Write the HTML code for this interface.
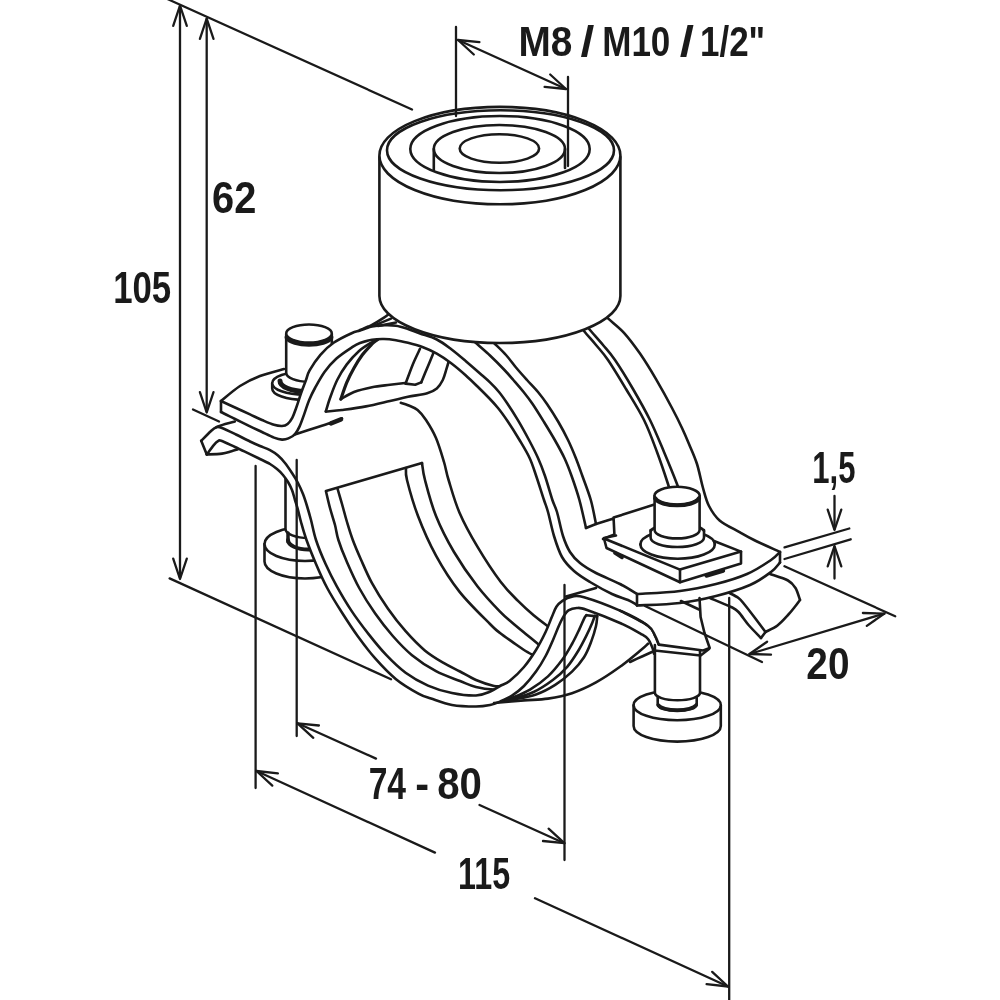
<!DOCTYPE html>
<html><head><meta charset="utf-8"><title>Pipe clamp dimensions</title>
<style>
html,body{margin:0;padding:0;background:#fff;}
svg{display:block}
text{font-family:"Liberation Sans",sans-serif;font-weight:bold;fill:#1a1a1a}
</style></head><body>
<svg width="1000" height="1000" viewBox="0 0 1000 1000">
<defs><filter id="soft" color-interpolation-filters="sRGB" x="0" y="0" width="1000" height="1000" filterUnits="userSpaceOnUse"><feGaussianBlur stdDeviation="0.7"/></filter></defs>
<rect width="1000" height="1000" fill="#ffffff"/>
<g filter="url(#soft)">
<clipPath id="c1"><path d="M260.0,310.0 L400.0,310.0 L372.0,327.2 L351.6,333.2 L333.6,342.8 L320.4,354.8 L309.6,370.4 L306.0,380.0 L301.2,392.8 L296.4,407.2 L292.4,417.6 L287.6,424.0 L260.0,424.0 Z"/></clipPath><g clip-path="url(#c1)">
<path d="M272.2,383.2 L272.2,388.4 A32,11.5 0 0 0 336.2,388.4 L336.2,383.2" fill="#fff" stroke="#1a1a1a" stroke-width="2.6" stroke-linecap="round" stroke-linejoin="round" />
<ellipse cx="304.2" cy="383.2" rx="32.0" ry="11.5" fill="#fff" stroke="#1a1a1a" stroke-width="2.6"/>
<path d="M280,381 A25,10.3 0 0 0 330,381" fill="#fff" stroke="#1a1a1a" stroke-width="5" stroke-linecap="round" stroke-linejoin="round" />
<path d="M286.2,334 L286.2,372.8 A22.8,9 0 0 0 331.8,372.8 L331.8,334" fill="#fff" stroke="#1a1a1a" stroke-width="2.6" stroke-linecap="round" stroke-linejoin="round" />
<ellipse cx="309.0" cy="333.5" rx="22.8" ry="9.0" fill="#fff" stroke="#1a1a1a" stroke-width="2.6"/>
<path d="M286.8,337.5 A22.8,9 0 0 0 331.2,337.5" fill="none" stroke="#1a1a1a" stroke-width="4.5" stroke-linecap="round" stroke-linejoin="round" />
</g>
<path d="M470.0,337.0 C471.0,338.0 472.7,339.9 476.0,343.0 C479.3,346.1 485.3,351.1 490.0,355.5 C494.7,359.9 500.1,365.4 504.0,369.5 C507.9,373.6 510.1,376.2 513.4,380.0 C516.7,383.8 520.4,388.0 523.6,392.0 C526.8,396.0 529.2,399.0 532.6,404.0 C536.0,409.0 540.3,416.0 544.0,422.0 C547.7,428.0 551.4,434.0 554.8,440.0 C558.2,446.0 561.6,452.0 564.4,458.0 C567.2,464.0 569.1,469.0 571.6,476.0 C574.1,483.0 577.0,491.3 579.4,500.0 C581.8,508.7 584.9,523.3 586.0,528.0" fill="none" stroke="#1a1a1a" stroke-width="2.6" stroke-linecap="round" stroke-linejoin="round" />
<path d="M488.0,337.0 C489.0,338.0 491.0,340.0 494.0,343.0 C497.0,346.0 502.3,350.9 506.0,355.0 C509.7,359.1 512.5,363.3 516.0,367.5 C519.5,371.7 523.3,375.9 527.0,380.0 C530.7,384.1 534.7,388.0 538.0,392.0 C541.3,396.0 543.6,399.0 547.0,404.0 C550.4,409.0 554.9,416.0 558.4,422.0 C561.9,428.0 565.1,434.0 568.0,440.0 C570.9,446.0 573.4,452.0 575.8,458.0 C578.2,464.0 579.9,469.0 582.4,476.0 C584.9,483.0 588.5,492.0 590.8,500.0 C593.1,508.0 595.1,520.0 596.0,524.0" fill="none" stroke="#1a1a1a" stroke-width="2.6" stroke-linecap="round" stroke-linejoin="round" />
<path d="M578.0,322.0 C579.0,323.5 581.0,327.2 584.0,331.0 C587.0,334.8 592.0,340.2 596.0,345.0 C600.0,349.8 603.0,352.7 608.0,360.0 C613.0,367.3 620.0,379.0 626.0,389.0 C632.0,399.0 638.8,409.5 644.0,420.0 C649.2,430.5 653.0,441.3 657.0,452.0 C661.0,462.7 665.5,476.3 668.0,484.0 C670.5,491.7 671.3,495.7 672.0,498.0" fill="none" stroke="#1a1a1a" stroke-width="2.6" stroke-linecap="round" stroke-linejoin="round" />
<path d="M584.0,322.0 C585.0,323.3 586.8,326.2 590.0,330.0 C593.2,333.8 598.8,340.0 603.0,345.0 C607.2,350.0 610.0,352.7 615.0,360.0 C620.0,367.3 627.2,379.0 633.0,389.0 C638.8,399.0 644.8,409.5 650.0,420.0 C655.2,430.5 659.5,441.3 664.0,452.0 C668.5,462.7 674.3,477.0 677.0,484.0 C679.7,491.0 679.5,492.3 680.0,494.0" fill="none" stroke="#1a1a1a" stroke-width="2.6" stroke-linecap="round" stroke-linejoin="round" />
<path d="M600.0,310.0 C601.3,311.4 604.0,314.6 608.0,318.4 C612.0,322.2 618.7,326.9 624.0,332.8 C629.3,338.7 634.7,345.9 640.0,353.6 C645.3,361.3 650.7,370.1 656.0,379.2 C661.3,388.3 667.7,399.9 672.0,408.0 C676.3,416.1 679.2,422.0 682.0,428.0 C684.8,434.0 686.5,438.0 689.0,444.0 C691.5,450.0 694.7,456.7 697.0,464.0 C699.3,471.3 701.0,481.0 703.0,488.0 C705.0,495.0 706.2,500.6 709.0,506.0 C711.8,511.4 714.4,516.0 719.6,520.4 C724.8,524.8 734.3,529.1 740.0,532.4 C745.7,535.7 747.3,536.7 754.0,540.0 C760.7,543.3 775.7,550.0 780.0,552.0" fill="none" stroke="#1a1a1a" stroke-width="2.6" stroke-linecap="round" stroke-linejoin="round" />
<path d="M325.8,411.5 C326.5,409.2 328.1,403.2 330.0,398.0 C331.9,392.8 334.4,385.6 337.2,380.0 C340.0,374.4 343.2,369.2 346.8,364.4 C350.4,359.6 354.8,354.8 358.8,351.2 C362.8,347.6 367.6,344.8 370.8,342.8 C374.0,340.9 376.8,340.1 378.0,339.5" fill="none" stroke="#1a1a1a" stroke-width="2.6" stroke-linecap="round" stroke-linejoin="round" />
<path d="M340.8,399.2 C341.8,396.4 344.6,387.6 346.8,382.4 C349.0,377.2 351.4,372.6 354.0,368.0 C356.6,363.4 359.4,358.8 362.4,354.8 C365.4,350.8 369.6,346.5 372.0,344.0 C374.4,341.5 376.2,340.7 377.0,340.0" fill="none" stroke="#1a1a1a" stroke-width="3.2" stroke-linecap="round" stroke-linejoin="round" />
<path d="M340.8,399.2 C343.0,398.0 348.8,394.0 354.0,392.0 C359.2,390.0 366.0,388.4 372.0,387.2 C378.0,386.0 384.5,385.5 390.0,384.8 C395.5,384.1 402.5,383.3 405.0,383.0" fill="none" stroke="#1a1a1a" stroke-width="2.6" stroke-linecap="round" stroke-linejoin="round" />
<path d="M420.0,348.8 C418.8,351.4 415.2,358.6 412.8,364.4 C410.4,370.2 406.8,380.4 405.6,383.6" fill="none" stroke="#1a1a1a" stroke-width="2.6" stroke-linecap="round" stroke-linejoin="round" />
<path d="M405.6,383.6 L415.2,384.8 L421.2,382.4" fill="none" stroke="#1a1a1a" stroke-width="2.6" stroke-linecap="round" stroke-linejoin="round" />
<path d="M421.2,382.4 C422.2,380.0 425.2,372.8 427.2,368.0 C429.2,363.2 432.2,356.0 433.2,353.6" fill="none" stroke="#1a1a1a" stroke-width="2.6" stroke-linecap="round" stroke-linejoin="round" />
<path d="M325.8,411.5 C328.5,411.2 335.3,410.9 342.0,410.0 C348.7,409.1 358.0,407.9 366.0,406.4 C374.0,404.9 383.0,402.6 390.0,401.0 C397.0,399.4 401.8,398.1 408.0,396.8 C414.2,395.5 422.4,394.6 427.2,393.2 C432.0,391.8 434.2,390.6 436.8,388.4 C439.4,386.2 441.2,383.2 442.8,380.0 C444.4,376.8 445.4,372.4 446.4,369.2 C447.4,366.0 448.4,362.4 448.8,361.0" fill="none" stroke="#1a1a1a" stroke-width="2.6" stroke-linecap="round" stroke-linejoin="round" />
<path d="M400.8,402.8 C402.0,403.2 405.2,404.0 408.0,405.2 C410.8,406.4 414.6,407.5 417.6,410.0 C420.6,412.5 422.9,415.3 426.0,420.0 C429.1,424.7 433.0,431.0 436.0,438.0 C439.0,445.0 441.9,455.0 444.0,462.0 C446.1,469.0 446.0,471.6 448.6,480.0 C451.2,488.4 454.6,501.3 459.4,512.4 C464.2,523.5 470.5,535.0 477.4,546.6 C484.3,558.2 494.0,573.0 500.8,582.0 C507.6,591.0 512.5,595.3 518.0,600.8 C523.5,606.3 528.4,610.8 533.6,615.2 C538.8,619.6 546.6,625.2 549.2,627.2" fill="none" stroke="#1a1a1a" stroke-width="2.6" stroke-linecap="round" stroke-linejoin="round" />
<path d="M326.0,491.0 L422.0,463.0" fill="none" stroke="#1a1a1a" stroke-width="2.6" stroke-linecap="round" stroke-linejoin="round" />
<path d="M326.0,491.5 C326.7,494.2 328.5,502.4 330.0,508.0 C331.5,513.6 333.6,519.7 335.0,525.0 C336.4,530.3 336.5,534.0 338.4,540.0 C340.3,546.0 342.9,552.8 346.4,560.8 C349.9,568.8 354.4,579.2 359.2,588.0 C364.0,596.8 369.6,605.6 375.2,613.6 C380.8,621.6 386.7,629.1 392.8,636.0 C398.9,642.9 404.8,649.3 412.0,655.2 C419.2,661.1 428.0,666.9 436.0,671.2 C444.0,675.5 453.3,678.4 460.0,681.0 C466.7,683.6 470.3,685.6 476.0,687.0 C481.7,688.4 489.7,689.3 494.0,689.5 C498.3,689.7 500.7,688.2 502.0,688.0" fill="none" stroke="#1a1a1a" stroke-width="2.6" stroke-linecap="round" stroke-linejoin="round" />
<path d="M337.5,488.5 C338.2,491.1 340.4,498.4 342.0,504.0 C343.6,509.6 345.2,516.0 347.0,522.0 C348.8,528.0 350.5,533.8 352.8,540.0 C355.1,546.2 357.6,552.0 360.8,559.2 C364.0,566.4 367.5,574.9 372.0,583.2 C376.5,591.5 382.4,600.8 388.0,608.8 C393.6,616.8 399.5,624.3 405.6,631.2 C411.7,638.1 418.4,645.1 424.8,650.4 C431.2,655.7 438.1,659.7 444.0,663.2 C449.9,666.7 454.7,668.7 460.0,671.5 C465.3,674.3 470.3,677.6 476.0,680.0 C481.7,682.4 489.5,685.0 494.0,686.0 C498.5,687.0 501.5,686.0 503.0,686.0" fill="none" stroke="#1a1a1a" stroke-width="2.6" stroke-linecap="round" stroke-linejoin="round" />
<path d="M406.0,468.0 C406.2,470.0 405.0,472.0 407.0,480.0 C409.0,488.0 413.2,503.4 418.0,516.0 C422.8,528.6 429.1,543.0 436.0,555.6 C442.9,568.2 450.4,580.2 459.4,591.6 C468.4,603.0 483.2,617.1 490.0,624.0 C496.8,630.9 496.3,630.1 500.0,633.0 C503.7,635.9 508.0,638.8 512.0,641.6 C516.0,644.4 520.2,647.6 524.0,650.0 C527.8,652.4 533.0,655.0 534.8,656.0" fill="none" stroke="#1a1a1a" stroke-width="2.6" stroke-linecap="round" stroke-linejoin="round" />
<path d="M422.0,463.0 C422.5,465.8 422.7,471.2 425.0,480.0 C427.3,488.8 431.2,504.0 436.0,516.0 C440.8,528.0 447.1,540.3 454.0,552.0 C460.9,563.7 469.7,576.3 477.4,586.2 C485.1,596.1 494.2,605.6 500.0,611.6 C505.8,617.6 507.6,618.6 512.0,622.4 C516.4,626.2 521.8,630.6 526.4,634.4 C531.0,638.2 537.4,643.4 539.6,645.2" fill="none" stroke="#1a1a1a" stroke-width="2.6" stroke-linecap="round" stroke-linejoin="round" />
<clipPath id="c2"><path d="M240.0,440.0 L250.0,454.5 L260.0,459.0 L270.0,464.0 L277.0,469.0 L283.0,475.0 L288.0,482.0 L292.0,490.0 L295.0,500.0 L298.0,510.0 L301.0,522.0 L306.5,540.0 L316.0,564.0 L327.2,588.0 L341.6,612.0 L240.0,612.0 Z"/></clipPath><g clip-path="url(#c2)">
<path d="M264.5,544 L264.5,561.5 A40.5,17 0 0 0 345.5,561.5 L345.5,544" fill="#fff" stroke="#1a1a1a" stroke-width="2.6" stroke-linecap="round" stroke-linejoin="round" />
<ellipse cx="305.0" cy="544.0" rx="40.5" ry="17.0" fill="#fff" stroke="#1a1a1a" stroke-width="2.6"/>
<path d="M285.5,470 L285.5,529 A23,9 0 0 0 331.5,529 L331.5,470" fill="#fff" stroke="#1a1a1a" stroke-width="2.6" stroke-linecap="round" stroke-linejoin="round" />
<path d="M288,540 A20.5,9.5 0 0 0 329,540" fill="none" stroke="#1a1a1a" stroke-width="4" stroke-linecap="round" stroke-linejoin="round" />
<path d="M288.0,533.0 L288.0,542.0" fill="none" stroke="#1a1a1a" stroke-width="3.5" stroke-linecap="round" stroke-linejoin="round" />
</g>
<path d="M201.2,440.8 C202.8,439.2 208.3,433.5 210.8,431.2 C213.3,428.9 214.5,427.7 216.4,427.2 C218.3,426.7 218.7,426.8 222.0,428.0 C225.3,429.2 231.3,432.2 236.0,434.5 C240.7,436.8 246.0,439.6 250.0,441.5 C254.0,443.4 256.7,444.6 260.0,446.0 C263.3,447.4 267.0,448.6 270.0,450.2 C273.0,451.8 275.5,453.4 278.0,455.5 C280.5,457.6 282.7,460.1 285.0,463.0 C287.3,465.9 289.8,469.7 292.0,473.0 C294.2,476.3 296.2,479.5 298.0,483.0 C299.8,486.5 301.5,490.2 303.0,494.0 C304.5,497.8 305.7,501.7 307.0,506.0 C308.3,510.3 309.5,514.3 311.0,520.0 C312.5,525.7 313.6,532.7 316.0,540.0 C318.4,547.3 322.1,556.3 325.6,564.0 C329.1,571.7 332.5,578.7 336.8,586.4 C341.1,594.1 345.9,602.4 351.2,610.4 C356.5,618.4 362.9,626.9 368.8,634.4 C374.7,641.9 380.3,648.8 386.4,655.2 C392.5,661.6 398.7,667.7 405.6,672.8 C412.5,677.9 420.3,682.2 428.0,685.6 C435.7,689.0 444.0,691.4 452.0,693.0 C460.0,694.6 469.6,695.8 476.0,695.5 C482.4,695.2 486.4,693.1 490.4,691.5 C494.4,689.9 496.8,687.8 500.0,686.0 C503.2,684.2 505.6,684.2 509.6,681.0 C513.6,677.8 519.6,672.2 524.0,667.0 C528.4,661.8 532.4,655.8 536.0,650.0 C539.6,644.2 543.0,637.4 545.6,632.0 C548.2,626.6 549.8,621.8 551.6,617.6 C553.4,613.4 554.6,609.6 556.4,606.8 C558.2,604.0 559.8,602.5 562.4,600.8 C565.0,599.1 568.4,597.2 572.0,596.6 C575.6,596.0 576.0,594.9 584.0,597.2 C592.0,599.5 609.3,605.9 620.0,610.6 C630.7,615.4 642.2,621.5 648.0,625.7 C653.8,629.9 653.2,632.5 655.0,635.6 C656.8,638.8 658.2,643.1 658.8,644.6 L654.0,653.6 L652.5,648.0 L648.0,639.0 L640.8,633.8 L620.0,623.0 L586.4,609.8 L576.8,608.0 L568.4,610.4 L563.6,616.4 L558.8,626.0 L552.8,640.4 L545.6,656.0 L536.0,671.6 L524.0,686.0 L512.0,695.6 L500.0,701.6 L490.0,705.0 L476.0,706.5 L452.0,705.0 L431.0,698.5 L418.4,693.6 L396.0,679.2 L375.2,658.4 L357.6,636.0 L341.6,612.0 L327.2,588.0 L316.0,564.0 L306.5,540.0 L301.0,522.0 L298.0,510.0 L295.0,500.0 L292.0,490.0 L288.0,482.0 L283.0,475.0 L277.0,469.0 L270.0,464.0 L260.0,459.0 L250.0,454.2 L235.0,447.0 L221.2,440.8 L218.0,441.2 L214.0,444.8 L206.8,454.4 Z" fill="#fff" stroke="#1a1a1a" stroke-width="0.01" stroke-linecap="round" stroke-linejoin="round" />
<path d="M201.2,440.8 C202.8,439.2 208.3,433.5 210.8,431.2 C213.3,428.9 214.5,427.7 216.4,427.2 C218.3,426.7 218.7,426.8 222.0,428.0 C225.3,429.2 231.3,432.2 236.0,434.5 C240.7,436.8 246.0,439.6 250.0,441.5 C254.0,443.4 256.7,444.6 260.0,446.0 C263.3,447.4 267.0,448.6 270.0,450.2 C273.0,451.8 275.5,453.4 278.0,455.5 C280.5,457.6 282.7,460.1 285.0,463.0 C287.3,465.9 289.8,469.7 292.0,473.0 C294.2,476.3 296.2,479.5 298.0,483.0 C299.8,486.5 301.5,490.2 303.0,494.0 C304.5,497.8 305.7,501.7 307.0,506.0 C308.3,510.3 309.5,514.3 311.0,520.0 C312.5,525.7 313.6,532.7 316.0,540.0 C318.4,547.3 322.1,556.3 325.6,564.0 C329.1,571.7 332.5,578.7 336.8,586.4 C341.1,594.1 345.9,602.4 351.2,610.4 C356.5,618.4 362.9,626.9 368.8,634.4 C374.7,641.9 380.3,648.8 386.4,655.2 C392.5,661.6 398.7,667.7 405.6,672.8 C412.5,677.9 420.3,682.2 428.0,685.6 C435.7,689.0 444.0,691.4 452.0,693.0 C460.0,694.6 469.6,695.8 476.0,695.5 C482.4,695.2 486.4,693.1 490.4,691.5 C494.4,689.9 496.8,687.8 500.0,686.0 C503.2,684.2 505.6,684.2 509.6,681.0 C513.6,677.8 519.6,672.2 524.0,667.0 C528.4,661.8 532.4,655.8 536.0,650.0 C539.6,644.2 543.0,637.4 545.6,632.0 C548.2,626.6 549.8,621.8 551.6,617.6 C553.4,613.4 554.6,609.6 556.4,606.8 C558.2,604.0 559.8,602.5 562.4,600.8 C565.0,599.1 568.4,597.2 572.0,596.6 C575.6,596.0 576.0,594.9 584.0,597.2 C592.0,599.5 609.3,605.9 620.0,610.6 C630.7,615.4 642.2,621.5 648.0,625.7 C653.8,629.9 653.2,632.5 655.0,635.6 C656.8,638.8 658.2,643.1 658.8,644.6" fill="none" stroke="#1a1a1a" stroke-width="2.6" stroke-linecap="round" stroke-linejoin="round" />
<path d="M206.8,454.4 C208.0,452.8 212.1,447.0 214.0,444.8 C215.9,442.6 216.8,441.9 218.0,441.2 C219.2,440.5 218.4,439.8 221.2,440.8 C224.0,441.8 230.2,444.8 235.0,447.0 C239.8,449.2 245.8,452.2 250.0,454.2 C254.2,456.2 256.7,457.4 260.0,459.0 C263.3,460.6 267.2,462.3 270.0,464.0 C272.8,465.7 274.8,467.2 277.0,469.0 C279.2,470.8 281.2,472.8 283.0,475.0 C284.8,477.2 286.5,479.5 288.0,482.0 C289.5,484.5 290.8,487.0 292.0,490.0 C293.2,493.0 294.0,496.7 295.0,500.0 C296.0,503.3 297.0,506.3 298.0,510.0 C299.0,513.7 299.6,517.0 301.0,522.0 C302.4,527.0 304.0,533.0 306.5,540.0 C309.0,547.0 312.6,556.0 316.0,564.0 C319.4,572.0 322.9,580.0 327.2,588.0 C331.5,596.0 336.5,604.0 341.6,612.0 C346.7,620.0 352.0,628.3 357.6,636.0 C363.2,643.7 368.8,651.2 375.2,658.4 C381.6,665.6 388.8,673.3 396.0,679.2 C403.2,685.1 412.6,690.4 418.4,693.6 C424.2,696.8 425.4,696.6 431.0,698.5 C436.6,700.4 444.5,703.7 452.0,705.0 C459.5,706.3 469.7,706.5 476.0,706.5 C482.3,706.5 486.0,705.8 490.0,705.0 C494.0,704.2 496.3,703.2 500.0,701.6 C503.7,700.0 508.0,698.2 512.0,695.6 C516.0,693.0 520.0,690.0 524.0,686.0 C528.0,682.0 532.4,676.6 536.0,671.6 C539.6,666.6 542.8,661.2 545.6,656.0 C548.4,650.8 550.6,645.4 552.8,640.4 C555.0,635.4 557.0,630.0 558.8,626.0 C560.6,622.0 562.0,619.0 563.6,616.4 C565.2,613.8 566.2,611.8 568.4,610.4 C570.6,609.0 573.8,608.1 576.8,608.0 C579.8,607.9 579.2,607.3 586.4,609.8 C593.6,612.3 610.9,619.0 620.0,623.0 C629.1,627.0 636.1,631.1 640.8,633.8 C645.5,636.5 646.0,636.6 648.0,639.0 C650.0,641.4 651.5,645.6 652.5,648.0 C653.5,650.4 653.8,652.7 654.0,653.6" fill="none" stroke="#1a1a1a" stroke-width="2.6" stroke-linecap="round" stroke-linejoin="round" />
<path d="M206.8,454.4 L201.2,440.8" fill="none" stroke="#1a1a1a" stroke-width="2.6" stroke-linecap="round" stroke-linejoin="round" />
<path d="M216.4,427.2 C217.9,426.7 222.1,424.9 225.2,424.0 C228.3,423.1 233.2,422.0 234.8,421.6" fill="none" stroke="#1a1a1a" stroke-width="2.6" stroke-linecap="round" stroke-linejoin="round" />
<path d="M206.8,454.4 C209.3,454.3 217.9,454.1 222.0,453.6 C226.1,453.1 228.9,451.9 231.6,451.2 C234.3,450.5 236.9,449.5 238.0,449.2" fill="none" stroke="#1a1a1a" stroke-width="2.6" stroke-linecap="round" stroke-linejoin="round" />
<path d="M566.0,596.5 L596.0,588.0" fill="none" stroke="#1a1a1a" stroke-width="2.6" stroke-linecap="round" stroke-linejoin="round" />
<path d="M494.0,703.0 C499.0,702.6 515.0,701.1 524.0,700.4 C533.0,699.7 540.0,699.8 548.0,698.6 C556.0,697.4 564.0,695.9 572.0,693.2 C580.0,690.5 588.0,686.8 596.0,682.4 C604.0,678.0 612.5,672.2 620.0,666.8 C627.5,661.4 636.3,653.9 641.0,650.0 C645.7,646.1 646.8,644.8 648.0,643.7" fill="none" stroke="#1a1a1a" stroke-width="2.6" stroke-linecap="round" stroke-linejoin="round" />
<path d="M506.0,700.0 C507.0,699.7 508.0,699.7 512.0,698.0 C516.0,696.3 524.0,693.2 530.0,689.6 C536.0,686.0 542.6,681.4 548.0,676.4 C553.4,671.4 558.4,665.0 562.4,659.6 C566.4,654.2 569.2,649.0 572.0,644.0 C574.8,639.0 577.2,633.8 579.2,629.6 C581.2,625.4 582.8,621.2 584.0,618.8 C585.2,616.4 586.0,615.8 586.4,615.2" fill="none" stroke="#1a1a1a" stroke-width="2.6" stroke-linecap="round" stroke-linejoin="round" />
<path d="M506.0,700.5 C507.0,700.2 507.4,700.4 512.0,699.0 C516.6,697.6 526.8,695.2 533.6,692.0 C540.4,688.8 547.2,684.2 552.8,680.0 C558.4,675.8 563.0,671.6 567.2,666.8 C571.4,662.0 574.8,656.4 578.0,651.2 C581.2,646.0 584.0,640.4 586.4,635.6 C588.8,630.8 591.0,625.7 592.4,622.4 C593.8,619.1 594.4,616.9 594.8,615.8" fill="none" stroke="#1a1a1a" stroke-width="2.6" stroke-linecap="round" stroke-linejoin="round" />
<path d="M506.0,701.0 C507.0,700.8 507.0,700.9 512.0,699.8 C517.0,698.7 528.8,696.9 536.0,694.4 C543.2,691.9 549.2,688.6 555.2,684.8 C561.2,681.0 567.2,676.2 572.0,671.6 C576.8,667.0 580.8,662.2 584.0,657.2 C587.2,652.2 589.2,646.8 591.2,641.6 C593.2,636.4 595.0,630.2 596.0,626.0 C597.0,621.8 597.0,618.0 597.2,616.4" fill="none" stroke="#1a1a1a" stroke-width="2.6" stroke-linecap="round" stroke-linejoin="round" />
<path d="M586.4,615.2 L597.2,616.4" fill="none" stroke="#1a1a1a" stroke-width="2.6" stroke-linecap="round" stroke-linejoin="round" />
<path d="M633.6,705.2 L633.6,726 A43.6,15.6 0 0 0 720.8,726 L720.8,705.2" fill="#fff" stroke="#1a1a1a" stroke-width="2.6" stroke-linecap="round" stroke-linejoin="round" />
<ellipse cx="677.2" cy="705.2" rx="43.6" ry="15.0" fill="#fff" stroke="#1a1a1a" stroke-width="2.6"/>
<path d="M657.7,694 L657.7,704.5 A19.5,6.5 0 0 0 696.7,704.5 L696.7,694" fill="#fff" stroke="#1a1a1a" stroke-width="2.6" stroke-linecap="round" stroke-linejoin="round" />
<path d="M658.2,705 A19.5,6.5 0 0 0 696.2,705" fill="none" stroke="#1a1a1a" stroke-width="3.6" stroke-linecap="round" stroke-linejoin="round" />
<path d="M654.9,645 L654.9,692.8 A22.5,7.5 0 0 0 700,692.8 L700,645" fill="#fff" stroke="#1a1a1a" stroke-width="2.6" stroke-linecap="round" stroke-linejoin="round" />
<path d="M658.8,644.6 L703.2,650.5 L709.7,648.0 L704.5,633.0 L700.6,617.0 L699.5,598.0 L640.0,598.0 L648.0,625.7 L655.0,635.6 Z" fill="#fff" stroke="#1a1a1a" stroke-width="0.01" stroke-linecap="round" stroke-linejoin="round" />
<path d="M658.8,644.6 L703.2,650.5 L709.7,648.0 L704.5,633.0 L700.6,617.0 L699.5,598.0" fill="none" stroke="#1a1a1a" stroke-width="2.6" stroke-linecap="round" stroke-linejoin="round" />
<path d="M654.5,650.5 L700.6,655.5 L709.0,649.0" fill="none" stroke="#1a1a1a" stroke-width="2.6" stroke-linecap="round" stroke-linejoin="round" />
<path d="M620.0,610.6 C624.7,613.1 642.2,621.5 648.0,625.7 C653.8,629.9 653.2,632.5 655.0,635.6 C656.8,638.8 658.2,643.1 658.8,644.6" fill="none" stroke="#1a1a1a" stroke-width="2.6" stroke-linecap="round" stroke-linejoin="round" />
<path d="M630.0,662.0 C632.0,661.1 638.2,658.2 642.0,656.5 C645.8,654.8 651.2,652.3 653.0,651.5" fill="none" stroke="#1a1a1a" stroke-width="2.6" stroke-linecap="round" stroke-linejoin="round" />
<path d="M681.0,601.0 L699.0,609.5" fill="none" stroke="#1a1a1a" stroke-width="2.6" stroke-linecap="round" stroke-linejoin="round" />
<path d="M729.5,593.0 C731.0,593.8 736.0,596.1 738.5,598.0 C741.0,599.9 741.8,601.2 744.5,604.5 C747.2,607.8 751.5,613.4 755.0,618.0 C758.5,622.6 763.8,629.7 765.5,632.0" fill="none" stroke="#1a1a1a" stroke-width="2.6" stroke-linecap="round" stroke-linejoin="round" />
<path d="M710.0,598.0 C713.5,599.5 726.2,604.7 731.0,607.0 C735.8,609.3 735.5,608.9 738.5,612.0 C741.5,615.1 745.2,621.2 749.0,625.5 C752.8,629.8 759.0,635.9 761.0,638.0" fill="none" stroke="#1a1a1a" stroke-width="2.6" stroke-linecap="round" stroke-linejoin="round" />
<path d="M761.0,638.0 L765.5,632.0" fill="none" stroke="#1a1a1a" stroke-width="2.6" stroke-linecap="round" stroke-linejoin="round" />
<path d="M765.5,632.0 C767.5,630.9 773.8,628.3 777.5,625.5 C781.2,622.7 785.0,618.2 788.0,615.0 C791.0,611.8 793.5,608.5 795.5,606.0 C797.5,603.5 799.2,601.0 800.0,600.0" fill="none" stroke="#1a1a1a" stroke-width="2.6" stroke-linecap="round" stroke-linejoin="round" />
<path d="M800.0,600.0 C799.2,598.0 797.5,591.2 795.5,588.0 C793.5,584.8 792.2,582.8 788.0,580.5 C783.8,578.2 773.0,575.1 770.0,574.0" fill="none" stroke="#1a1a1a" stroke-width="2.6" stroke-linecap="round" stroke-linejoin="round" />
<path d="M221.0,401.0 C223.3,402.1 230.2,405.3 235.0,407.5 C239.8,409.7 245.5,412.3 250.0,414.4 C254.5,416.5 258.0,418.3 262.0,420.0 C266.0,421.7 270.7,423.8 274.0,424.8 C277.3,425.8 279.7,426.1 282.0,426.0 C284.3,425.9 285.9,425.4 287.6,424.0 C289.3,422.6 290.9,420.4 292.4,417.6 C293.9,414.8 294.9,411.3 296.4,407.2 C297.9,403.1 299.6,397.3 301.2,392.8 C302.8,388.3 304.6,383.7 306.0,380.0 C307.4,376.3 307.2,374.6 309.6,370.4 C312.0,366.2 316.4,359.4 320.4,354.8 C324.4,350.2 328.4,346.4 333.6,342.8 C338.8,339.2 347.2,335.2 351.6,333.2 C356.0,331.1 356.6,331.6 360.0,330.5 C363.4,329.4 368.0,327.5 372.0,326.6 C376.0,325.7 380.0,325.4 384.0,325.2 C388.0,325.0 392.0,325.1 396.0,325.7 C400.0,326.3 404.0,327.7 408.0,329.0 C412.0,330.3 415.2,331.8 420.0,333.5 C424.8,335.2 431.6,336.9 436.8,339.5 C442.0,342.1 446.2,345.4 451.0,349.0 C455.8,352.6 460.8,356.9 465.6,361.0 C470.4,365.1 475.9,369.9 480.0,373.5 C484.1,377.1 486.8,379.3 490.0,382.4 C493.2,385.5 496.2,388.6 499.0,392.0 C501.8,395.4 503.9,398.4 507.0,403.0 C510.1,407.6 513.9,413.4 517.6,419.6 C521.3,425.8 525.6,433.6 529.0,440.0 C532.4,446.4 535.3,452.0 538.0,458.0 C540.7,464.0 542.6,469.0 545.0,476.0 C547.4,483.0 550.4,494.0 552.4,500.0 C554.4,506.0 555.2,506.0 557.0,512.0 C558.8,518.0 560.8,529.3 563.0,536.0 C565.2,542.7 567.2,547.5 570.0,552.0 C572.8,556.5 575.7,559.5 580.0,563.0 C584.3,566.5 589.3,569.5 596.0,573.0 C602.7,576.5 613.2,580.5 620.0,584.0 C626.8,587.5 634.2,592.3 637.0,594.0 L637.0,605.0 L628.0,600.0 L612.0,594.0 L590.0,582.0 L574.0,571.0 L562.0,557.0 L554.0,536.0 L548.0,512.0 L544.0,500.0 L536.2,476.0 L529.6,458.0 L519.5,440.0 L507.5,421.0 L498.0,408.0 L489.0,398.0 L479.0,388.0 L465.6,375.2 L451.2,363.2 L436.8,353.6 L422.4,347.0 L408.0,342.8 L396.0,340.2 L384.0,339.0 L372.0,339.8 L360.0,343.0 L351.6,347.6 L336.2,358.8 L324.5,372.0 L315.0,388.0 L309.2,400.0 L304.4,413.6 L299.6,426.4 L294.8,434.4 L288.4,438.4 L282.0,439.6 L274.0,437.6 L262.0,432.0 L250.0,426.4 L235.0,419.0 L221.0,412.0 Z" fill="#fff" stroke="#1a1a1a" stroke-width="0.01" stroke-linecap="round" stroke-linejoin="round" />
<path d="M221.0,401.0 C223.3,402.1 230.2,405.3 235.0,407.5 C239.8,409.7 245.5,412.3 250.0,414.4 C254.5,416.5 258.0,418.3 262.0,420.0 C266.0,421.7 270.7,423.8 274.0,424.8 C277.3,425.8 279.7,426.1 282.0,426.0 C284.3,425.9 285.9,425.4 287.6,424.0 C289.3,422.6 290.9,420.4 292.4,417.6 C293.9,414.8 294.9,411.3 296.4,407.2 C297.9,403.1 299.6,397.3 301.2,392.8 C302.8,388.3 304.6,383.7 306.0,380.0 C307.4,376.3 307.2,374.6 309.6,370.4 C312.0,366.2 316.4,359.4 320.4,354.8 C324.4,350.2 328.4,346.4 333.6,342.8 C338.8,339.2 347.2,335.2 351.6,333.2 C356.0,331.1 356.6,331.6 360.0,330.5 C363.4,329.4 368.0,327.5 372.0,326.6 C376.0,325.7 380.0,325.4 384.0,325.2 C388.0,325.0 392.0,325.1 396.0,325.7 C400.0,326.3 404.0,327.7 408.0,329.0 C412.0,330.3 415.2,331.8 420.0,333.5 C424.8,335.2 431.6,336.9 436.8,339.5 C442.0,342.1 446.2,345.4 451.0,349.0 C455.8,352.6 460.8,356.9 465.6,361.0 C470.4,365.1 475.9,369.9 480.0,373.5 C484.1,377.1 486.8,379.3 490.0,382.4 C493.2,385.5 496.2,388.6 499.0,392.0 C501.8,395.4 503.9,398.4 507.0,403.0 C510.1,407.6 513.9,413.4 517.6,419.6 C521.3,425.8 525.6,433.6 529.0,440.0 C532.4,446.4 535.3,452.0 538.0,458.0 C540.7,464.0 542.6,469.0 545.0,476.0 C547.4,483.0 550.4,494.0 552.4,500.0 C554.4,506.0 555.2,506.0 557.0,512.0 C558.8,518.0 560.8,529.3 563.0,536.0 C565.2,542.7 567.2,547.5 570.0,552.0 C572.8,556.5 575.7,559.5 580.0,563.0 C584.3,566.5 589.3,569.5 596.0,573.0 C602.7,576.5 613.2,580.5 620.0,584.0 C626.8,587.5 634.2,592.3 637.0,594.0" fill="none" stroke="#1a1a1a" stroke-width="2.6" stroke-linecap="round" stroke-linejoin="round" />
<path d="M221.0,412.0 C223.3,413.2 230.2,416.6 235.0,419.0 C239.8,421.4 245.5,424.2 250.0,426.4 C254.5,428.6 258.0,430.1 262.0,432.0 C266.0,433.9 270.7,436.3 274.0,437.6 C277.3,438.9 279.6,439.5 282.0,439.6 C284.4,439.7 286.3,439.3 288.4,438.4 C290.5,437.5 292.9,436.4 294.8,434.4 C296.7,432.4 298.0,429.9 299.6,426.4 C301.2,422.9 302.8,418.0 304.4,413.6 C306.0,409.2 307.4,404.3 309.2,400.0 C311.0,395.7 312.4,392.7 315.0,388.0 C317.6,383.3 321.0,376.9 324.5,372.0 C328.0,367.1 331.7,362.9 336.2,358.8 C340.7,354.7 347.6,350.2 351.6,347.6 C355.6,345.0 356.6,344.3 360.0,343.0 C363.4,341.7 368.0,340.5 372.0,339.8 C376.0,339.1 380.0,338.9 384.0,339.0 C388.0,339.1 392.0,339.6 396.0,340.2 C400.0,340.8 403.6,341.7 408.0,342.8 C412.4,343.9 417.6,345.2 422.4,347.0 C427.2,348.8 432.0,350.9 436.8,353.6 C441.6,356.3 446.4,359.6 451.2,363.2 C456.0,366.8 461.0,371.1 465.6,375.2 C470.2,379.3 475.1,384.2 479.0,388.0 C482.9,391.8 485.8,394.7 489.0,398.0 C492.2,401.3 494.9,404.2 498.0,408.0 C501.1,411.8 503.9,415.7 507.5,421.0 C511.1,426.3 515.8,433.8 519.5,440.0 C523.2,446.2 526.8,452.0 529.6,458.0 C532.4,464.0 533.8,469.0 536.2,476.0 C538.6,483.0 542.0,494.0 544.0,500.0 C546.0,506.0 546.3,506.0 548.0,512.0 C549.7,518.0 551.7,528.5 554.0,536.0 C556.3,543.5 558.7,551.2 562.0,557.0 C565.3,562.8 569.3,566.8 574.0,571.0 C578.7,575.2 583.7,578.2 590.0,582.0 C596.3,585.8 605.7,591.0 612.0,594.0 C618.3,597.0 623.8,598.2 628.0,600.0 C632.2,601.8 635.5,604.2 637.0,605.0" fill="none" stroke="#1a1a1a" stroke-width="2.6" stroke-linecap="round" stroke-linejoin="round" />
<path d="M221.0,401.0 L221.0,412.0" fill="none" stroke="#1a1a1a" stroke-width="2.6" stroke-linecap="round" stroke-linejoin="round" />
<path d="M221.0,401.0 C224.2,398.5 233.5,390.2 240.0,386.0 C246.5,381.8 252.7,378.8 260.0,376.0 C267.3,373.2 280.0,370.2 284.0,369.0" fill="none" stroke="#1a1a1a" stroke-width="2.6" stroke-linecap="round" stroke-linejoin="round" />
<path d="M294.8,434.6 C298.7,433.3 311.5,429.1 318.0,427.0 C324.5,424.9 329.6,423.4 333.6,422.0 C337.6,420.6 340.6,419.0 342.0,418.4" fill="none" stroke="#1a1a1a" stroke-width="2.6" stroke-linecap="round" stroke-linejoin="round" />
<path d="M331.0,423.3 L341.0,419.3" fill="none" stroke="#1a1a1a" stroke-width="4.5" stroke-linecap="round" stroke-linejoin="round" />
<path d="M360.0,330.0 C362.0,329.1 368.0,326.9 372.0,324.8 C376.0,322.7 381.1,319.5 384.0,317.6 C386.9,315.7 388.6,314.2 389.5,313.5" fill="none" stroke="#1a1a1a" stroke-width="2.6" stroke-linecap="round" stroke-linejoin="round" />
<path d="M374.0,325.6 L391.0,318.6" fill="none" stroke="#1a1a1a" stroke-width="2.6" stroke-linecap="round" stroke-linejoin="round" />
<path d="M378.0,326.0 L396.0,322.5" fill="none" stroke="#1a1a1a" stroke-width="2.6" stroke-linecap="round" stroke-linejoin="round" />
<path d="M637.0,594.0 C644.2,593.5 666.8,592.7 680.0,591.0 C693.2,589.3 704.8,586.8 716.0,584.0 C727.2,581.2 737.8,578.0 747.0,574.0 C756.2,570.0 765.5,563.7 771.0,560.0 C776.5,556.3 778.5,553.3 780.0,552.0" fill="none" stroke="#1a1a1a" stroke-width="2.6" stroke-linecap="round" stroke-linejoin="round" />
<path d="M637.0,605.5 C644.2,605.1 666.8,604.6 680.0,603.0 C693.2,601.4 704.3,599.0 716.0,596.0 C727.7,593.0 740.8,589.0 750.0,585.0 C759.2,581.0 766.0,575.8 771.0,572.0 C776.0,568.2 778.5,564.1 780.0,562.5" fill="none" stroke="#1a1a1a" stroke-width="2.6" stroke-linecap="round" stroke-linejoin="round" />
<path d="M637.0,594.0 L637.0,605.5" fill="none" stroke="#1a1a1a" stroke-width="2.6" stroke-linecap="round" stroke-linejoin="round" />
<path d="M780.0,552.0 L780.0,562.5" fill="none" stroke="#1a1a1a" stroke-width="2.6" stroke-linecap="round" stroke-linejoin="round" />
<path d="M586.0,528.0 L596.0,524.0 L613.6,518.4 L614.4,534.4 L603.0,539.0" fill="none" stroke="#1a1a1a" stroke-width="2.6" stroke-linecap="round" stroke-linejoin="round" />
<path d="M613.6,517.6 L653.6,504.8" fill="none" stroke="#1a1a1a" stroke-width="2.6" stroke-linecap="round" stroke-linejoin="round" />
<path d="M604.0,538.5 L680.0,569.6 L741.0,551.6 L714.0,541.0" fill="none" stroke="#1a1a1a" stroke-width="2.6" stroke-linecap="round" stroke-linejoin="round" />
<path d="M604.0,538.5 L606.5,548.0 L680.0,582.2 L741.0,563.5 L741.0,551.6" fill="none" stroke="#1a1a1a" stroke-width="2.6" stroke-linecap="round" stroke-linejoin="round" />
<path d="M680.0,569.6 L680.0,582.2" fill="none" stroke="#1a1a1a" stroke-width="2.6" stroke-linecap="round" stroke-linejoin="round" />
<path d="M604.0,538.0 L616.0,535.5" fill="none" stroke="#1a1a1a" stroke-width="2.6" stroke-linecap="round" stroke-linejoin="round" />
<path d="M640.4,544.4 A37.2,14.4 0 0 0 714.8,544.4" fill="#fff" stroke="#1a1a1a" stroke-width="2.6" stroke-linecap="round" stroke-linejoin="round" />
<path d="M640.4,544.4 A37.2,14.4 0 0 1 652,534" fill="none" stroke="#1a1a1a" stroke-width="2.6" stroke-linecap="round" stroke-linejoin="round" />
<path d="M714.8,544.4 A37.2,14.4 0 0 0 703,534" fill="none" stroke="#1a1a1a" stroke-width="2.6" stroke-linecap="round" stroke-linejoin="round" />
<path d="M650.6,530 L650.6,537.5 A26.7,9.5 0 0 0 704,537.5 L704,530" fill="#fff" stroke="#1a1a1a" stroke-width="2.6" stroke-linecap="round" stroke-linejoin="round" />
<path d="M650.6,531 A26.7,9.5 0 0 1 656,527" fill="none" stroke="#1a1a1a" stroke-width="2.6" stroke-linecap="round" stroke-linejoin="round" />
<path d="M704,531 A26.7,9.5 0 0 0 699,527" fill="none" stroke="#1a1a1a" stroke-width="2.6" stroke-linecap="round" stroke-linejoin="round" />
<path d="M654.6,496 L654.6,530 A22.5,8.4 0 0 0 699.6,530 L699.6,496" fill="#fff" stroke="#1a1a1a" stroke-width="2.6" stroke-linecap="round" stroke-linejoin="round" />
<ellipse cx="677.1" cy="495.8" rx="22.6" ry="9.0" fill="#fff" stroke="#1a1a1a" stroke-width="2.6"/>
<path d="M655.3,498.5 A22.5,9 0 0 0 698.9,498.5" fill="none" stroke="#1a1a1a" stroke-width="4.2" stroke-linecap="round" stroke-linejoin="round" />
<path d="M706.4,575.8 L723.2,570.8" fill="none" stroke="#1a1a1a" stroke-width="4" stroke-linecap="round" stroke-linejoin="round" />
<path d="M615.0,553.0 L622.0,557.5" fill="none" stroke="#1a1a1a" stroke-width="3.5" stroke-linecap="round" stroke-linejoin="round" />
<path d="M379.4,157 L379.4,296 A120.5,47 0 0 0 620.4,296 L620.4,157" fill="#fff" stroke="#1a1a1a" stroke-width="2.6" stroke-linecap="round" stroke-linejoin="round" />
<ellipse cx="499.9" cy="155.6" rx="120.5" ry="48.7" fill="#fff" stroke="#1a1a1a" stroke-width="2.6"/>
<ellipse cx="500.5" cy="150.3" rx="113.5" ry="40.0" fill="none" stroke="#1a1a1a" stroke-width="2.6"/>
<ellipse cx="500.0" cy="149.0" rx="89.7" ry="33.0" fill="none" stroke="#1a1a1a" stroke-width="2.6"/>
<ellipse cx="499.4" cy="149.0" rx="65.6" ry="24.0" fill="none" stroke="#1a1a1a" stroke-width="2.6"/>
<ellipse cx="499.4" cy="148.5" rx="39.7" ry="14.3" fill="none" stroke="#1a1a1a" stroke-width="2.6"/>
<path d="M433.8,149.0 L433.8,170.0" fill="none" stroke="#1a1a1a" stroke-width="2.6" stroke-linecap="round" stroke-linejoin="round" />
<path d="M565.0,149.0 L565.0,168.0" fill="none" stroke="#1a1a1a" stroke-width="2.6" stroke-linecap="round" stroke-linejoin="round" />
<path d="M180.0,6.5 L180.0,578.0" fill="none" stroke="#1a1a1a" stroke-width="2.3" stroke-linecap="round" stroke-linejoin="round" />
<path d="M186.8,25.9 L180.0,5.5 L173.2,25.9" fill="none" stroke="#1a1a1a" stroke-width="2.3" stroke-linecap="round" stroke-linejoin="round" />
<path d="M173.2,558.6 L180.0,579.0 L186.8,558.6" fill="none" stroke="#1a1a1a" stroke-width="2.3" stroke-linecap="round" stroke-linejoin="round" />
<path d="M206.7,19.0 L206.7,411.5" fill="none" stroke="#1a1a1a" stroke-width="2.3" stroke-linecap="round" stroke-linejoin="round" />
<path d="M213.5,38.9 L206.7,18.5 L199.9,38.9" fill="none" stroke="#1a1a1a" stroke-width="2.3" stroke-linecap="round" stroke-linejoin="round" />
<path d="M199.9,392.1 L206.7,412.5 L213.5,392.1" fill="none" stroke="#1a1a1a" stroke-width="2.3" stroke-linecap="round" stroke-linejoin="round" />
<path d="M167.4,-1.0 L412.0,109.5" fill="none" stroke="#1a1a1a" stroke-width="2.3" stroke-linecap="round" stroke-linejoin="round" />
<path d="M169.6,578.4 L391.0,679.3" fill="none" stroke="#1a1a1a" stroke-width="2.3" stroke-linecap="round" stroke-linejoin="round" />
<path d="M193.0,409.5 L219.0,421.5" fill="none" stroke="#1a1a1a" stroke-width="2.3" stroke-linecap="round" stroke-linejoin="round" />
<path d="M456.0,27.0 L456.0,116.0" fill="none" stroke="#1a1a1a" stroke-width="2.3" stroke-linecap="round" stroke-linejoin="round" />
<path d="M568.0,77.0 L568.0,166.0" fill="none" stroke="#1a1a1a" stroke-width="2.3" stroke-linecap="round" stroke-linejoin="round" />
<path d="M458.0,40.0 L566.0,89.0" fill="none" stroke="#1a1a1a" stroke-width="2.3" stroke-linecap="round" stroke-linejoin="round" />
<path d="M479.4,42.2 L458.0,40.0 L473.8,54.5" fill="none" stroke="#1a1a1a" stroke-width="2.3" stroke-linecap="round" stroke-linejoin="round" />
<path d="M544.6,86.8 L566.0,89.0 L550.2,74.5" fill="none" stroke="#1a1a1a" stroke-width="2.3" stroke-linecap="round" stroke-linejoin="round" />
<path d="M296.7,460.0 L296.7,736.0" fill="none" stroke="#1a1a1a" stroke-width="2.3" stroke-linecap="round" stroke-linejoin="round" />
<path d="M564.5,585.0 L564.5,860.0" fill="none" stroke="#1a1a1a" stroke-width="2.3" stroke-linecap="round" stroke-linejoin="round" />
<path d="M297.5,723.3 L376.0,758.6" fill="none" stroke="#1a1a1a" stroke-width="2.3" stroke-linecap="round" stroke-linejoin="round" />
<path d="M479.5,805.0 L564.4,843.2" fill="none" stroke="#1a1a1a" stroke-width="2.3" stroke-linecap="round" stroke-linejoin="round" />
<path d="M318.9,725.5 L297.5,723.3 L313.3,737.8" fill="none" stroke="#1a1a1a" stroke-width="2.3" stroke-linecap="round" stroke-linejoin="round" />
<path d="M543.0,841.0 L564.4,843.2 L548.6,828.7" fill="none" stroke="#1a1a1a" stroke-width="2.3" stroke-linecap="round" stroke-linejoin="round" />
<path d="M255.6,466.0 L255.6,788.0" fill="none" stroke="#1a1a1a" stroke-width="2.3" stroke-linecap="round" stroke-linejoin="round" />
<path d="M729.2,598.0 L729.2,1001.0" fill="none" stroke="#1a1a1a" stroke-width="2.3" stroke-linecap="round" stroke-linejoin="round" />
<path d="M256.5,771.0 L435.0,852.6" fill="none" stroke="#1a1a1a" stroke-width="2.3" stroke-linecap="round" stroke-linejoin="round" />
<path d="M535.0,898.3 L728.0,986.5" fill="none" stroke="#1a1a1a" stroke-width="2.3" stroke-linecap="round" stroke-linejoin="round" />
<path d="M277.9,773.3 L256.5,771.0 L272.3,785.6" fill="none" stroke="#1a1a1a" stroke-width="2.3" stroke-linecap="round" stroke-linejoin="round" />
<path d="M706.6,984.2 L728.0,986.5 L712.2,971.9" fill="none" stroke="#1a1a1a" stroke-width="2.3" stroke-linecap="round" stroke-linejoin="round" />
<path d="M784.5,566.3 L895.2,616.3" fill="none" stroke="#1a1a1a" stroke-width="2.3" stroke-linecap="round" stroke-linejoin="round" />
<path d="M645.0,606.0 L762.0,662.0" fill="none" stroke="#1a1a1a" stroke-width="2.3" stroke-linecap="round" stroke-linejoin="round" />
<path d="M749.5,654.0 L884.4,613.6" fill="none" stroke="#1a1a1a" stroke-width="2.3" stroke-linecap="round" stroke-linejoin="round" />
<path d="M767.1,641.7 L749.5,654.0 L771.0,654.6" fill="none" stroke="#1a1a1a" stroke-width="2.3" stroke-linecap="round" stroke-linejoin="round" />
<path d="M866.8,625.9 L884.4,613.6 L862.9,613.0" fill="none" stroke="#1a1a1a" stroke-width="2.3" stroke-linecap="round" stroke-linejoin="round" />
<path d="M784.5,547.4 L849.3,528.5" fill="none" stroke="#1a1a1a" stroke-width="2.3" stroke-linecap="round" stroke-linejoin="round" />
<path d="M784.5,559.0 L850.7,539.3" fill="none" stroke="#1a1a1a" stroke-width="2.3" stroke-linecap="round" stroke-linejoin="round" />
<path d="M834.5,496.0 L834.5,529.0" fill="none" stroke="#1a1a1a" stroke-width="2.3" stroke-linecap="round" stroke-linejoin="round" />
<path d="M827.7,509.6 L834.5,530.0 L841.3,509.6" fill="none" stroke="#1a1a1a" stroke-width="2.3" stroke-linecap="round" stroke-linejoin="round" />
<path d="M834.5,578.5 L834.5,547.0" fill="none" stroke="#1a1a1a" stroke-width="2.3" stroke-linecap="round" stroke-linejoin="round" />
<path d="M841.3,566.4 L834.5,546.0 L827.7,566.4" fill="none" stroke="#1a1a1a" stroke-width="2.3" stroke-linecap="round" stroke-linejoin="round" />
<text x="518.38" y="56" font-size="42.5" textLength="53.86" lengthAdjust="spacingAndGlyphs" text-anchor="start">M8</text>
<text x="580.55" y="56" font-size="42.5" textLength="13.84" lengthAdjust="spacingAndGlyphs" text-anchor="start">/</text>
<text x="602.22" y="56" font-size="42.5" textLength="68.12" lengthAdjust="spacingAndGlyphs" text-anchor="start">M10</text>
<text x="679.74" y="56" font-size="42.5" textLength="14.26" lengthAdjust="spacingAndGlyphs" text-anchor="start">/</text>
<text x="700.0" y="56" font-size="42.5" textLength="65.14" lengthAdjust="spacingAndGlyphs" text-anchor="start">1/2&quot;</text>
<text x="212.01" y="213" font-size="44" textLength="44.28" lengthAdjust="spacingAndGlyphs" text-anchor="start">62</text>
<text x="113.22" y="303" font-size="44" textLength="57.98" lengthAdjust="spacingAndGlyphs" text-anchor="start">105</text>
<text x="812.34" y="482.6" font-size="44" textLength="43.14" lengthAdjust="spacingAndGlyphs" text-anchor="start">1,5</text>
<text x="806.34" y="678.6" font-size="44" textLength="43.11" lengthAdjust="spacingAndGlyphs" text-anchor="start">20</text>
<text x="368.65" y="798.8" font-size="44" textLength="37.42" lengthAdjust="spacingAndGlyphs" text-anchor="start">74</text>
<text x="415.35" y="798.8" font-size="44" textLength="13.83" lengthAdjust="spacingAndGlyphs" text-anchor="start">-</text>
<text x="437.19" y="798.8" font-size="44" textLength="44.71" lengthAdjust="spacingAndGlyphs" text-anchor="start">80</text>
<text x="458.06" y="888.8" font-size="44" textLength="52.05" lengthAdjust="spacingAndGlyphs" text-anchor="start">115</text>
</g>
</svg>
</body></html>
